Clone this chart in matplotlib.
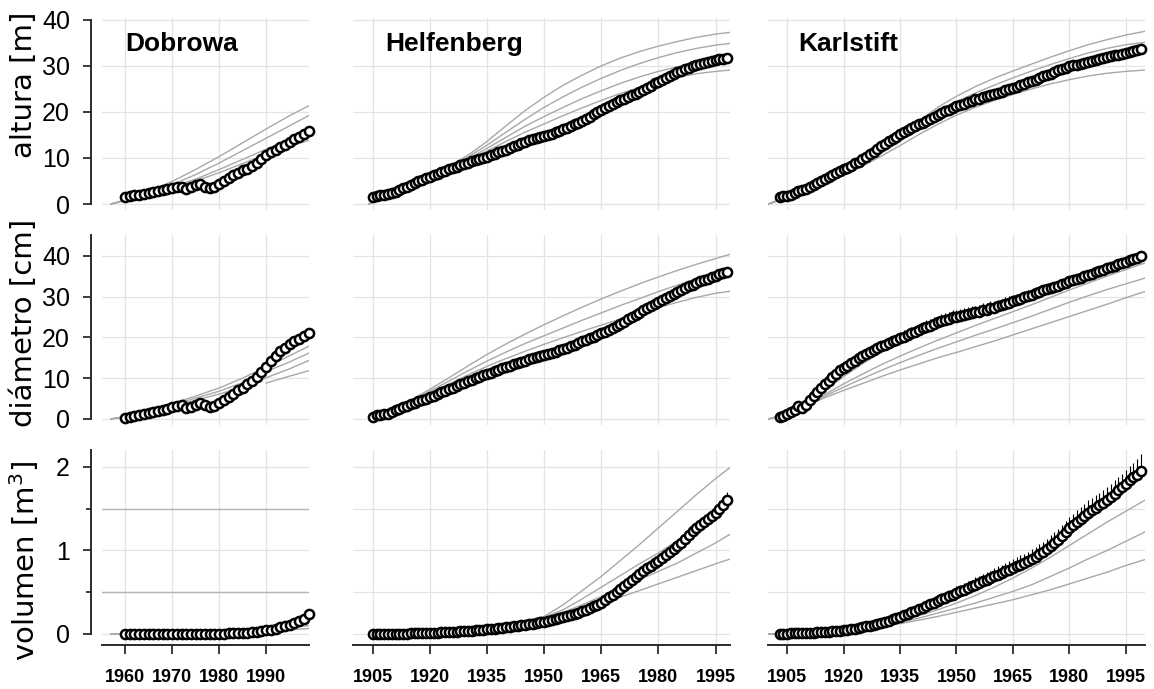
import numpy as np
import matplotlib
matplotlib.use("Agg")
from matplotlib import pyplot as plt
from matplotlib.font_manager import FontProperties

# ---------------- datos ----------------
# Dobrowa 1960-1999
dob_years = np.arange(1960, 2000)
dob_h = [1.6, 1.8, 1.9, 2.0, 2.2, 2.4, 2.6, 2.8, 3.0, 3.2,
         3.4, 3.7, 3.7, 3.2, 3.6, 4.1, 4.3, 3.7, 3.4, 3.7,
         4.4, 4.9, 5.6, 6.2, 6.7, 7.3, 7.7, 8.3, 9.0, 9.8,
         10.6, 11.2, 11.7, 12.3, 12.8, 13.4, 14.1, 14.6, 15.2, 15.9]
dob_d = [0.3, 0.5, 0.7, 0.9, 1.1, 1.4, 1.6, 1.9, 2.2, 2.5,
         2.9, 3.3, 3.5, 2.8, 3.0, 3.5, 4.0, 3.4, 2.9, 3.1,
         3.8, 4.6, 5.4, 6.2, 7.0, 7.7, 8.5, 9.3, 10.3, 11.5,
         12.8, 14.2, 15.5, 16.6, 17.5, 18.3, 19.0, 19.7, 20.4, 21.1]
dob_v = [0.000, 0.000, 0.000, 0.000, 0.000, 0.000, 0.000, 0.000, 0.000, 0.000,
         0.001, 0.001, 0.001, 0.001, 0.001, 0.002, 0.002, 0.002, 0.002, 0.003,
         0.004, 0.005, 0.007, 0.009, 0.011, 0.014, 0.017, 0.021, 0.026, 0.033,
         0.042, 0.052, 0.064, 0.078, 0.094, 0.111, 0.130, 0.152, 0.180, 0.235]

# Helfenberg 1905-1998
helf_years = np.arange(1905, 1999)
helf_h = [1.6, 1.8, 1.9, 2.0, 2.1, 2.3, 2.6, 3.0, 3.4, 3.8,
          4.2, 4.5, 4.9, 5.2, 5.6, 5.9, 6.2, 6.5, 6.9, 7.2,
          7.5, 7.8, 8.1, 8.4, 8.7, 9.0, 9.3, 9.6, 9.8, 10.1,
          10.3, 10.6, 10.9, 11.2, 11.5, 11.8, 12.1, 12.5, 12.8, 13.2,
          13.5, 13.8, 14.1, 14.4, 14.5, 14.7, 15.0, 15.3, 15.6, 15.9,
          16.2, 16.5, 16.9, 17.3, 17.6, 18.0, 18.5, 19.0, 19.5, 19.9,
          20.4, 20.8, 21.3, 21.7, 22.1, 22.5, 22.9, 23.3, 23.7, 24.0,
          24.4, 24.8, 25.3, 25.7, 26.2, 26.6, 27.0, 27.4, 27.8, 28.2,
          28.6, 28.9, 29.3, 29.6, 29.9, 30.2, 30.4, 30.6, 30.9, 31.1,
          31.3, 31.5, 31.6, 31.8]
helf_d = [0.6, 0.9, 1.0, 1.1, 1.3, 1.7, 2.1, 2.5, 2.9, 3.3,
          3.7, 4.0, 4.3, 4.7, 5.0, 5.3, 5.7, 6.1, 6.5, 6.9,
          7.3, 7.7, 8.1, 8.5, 8.9, 9.3, 9.6, 10.0, 10.3, 10.7,
          11.0, 11.3, 11.7, 12.0, 12.4, 12.7, 13.0, 13.4, 13.7, 14.0,
          14.3, 14.6, 14.9, 15.2, 15.4, 15.6, 15.9, 16.2, 16.5, 16.8,
          17.2, 17.5, 17.9, 18.2, 18.6, 19.0, 19.4, 19.8, 20.2, 20.6,
          21.0, 21.4, 21.9, 22.3, 22.8, 23.3, 23.8, 24.4, 24.9, 25.5,
          26.0, 26.6, 27.1, 27.6, 28.2, 28.7, 29.2, 29.7, 30.2, 30.7,
          31.2, 31.6, 32.1, 32.5, 32.9, 33.3, 33.7, 34.0, 34.4, 34.7,
          35.0, 35.4, 35.7, 36.0]
helf_v = [0.001, 0.001, 0.001, 0.002, 0.002, 0.002, 0.003, 0.003, 0.004, 0.005,
          0.006, 0.007, 0.008, 0.009, 0.010, 0.012, 0.014, 0.016, 0.018, 0.020,
          0.022, 0.024, 0.027, 0.030, 0.033, 0.036, 0.039, 0.043, 0.047, 0.051,
          0.055, 0.060, 0.065, 0.070, 0.075, 0.080, 0.086, 0.092, 0.098, 0.104,
          0.110, 0.117, 0.124, 0.131, 0.138, 0.145, 0.155, 0.165, 0.176, 0.188,
          0.200, 0.213, 0.227, 0.241, 0.255, 0.270, 0.290, 0.310, 0.330, 0.352,
          0.375, 0.405, 0.437, 0.470, 0.505, 0.540, 0.575, 0.610, 0.645, 0.680,
          0.715, 0.750, 0.785, 0.820, 0.850, 0.880, 0.915, 0.950, 0.985, 1.020,
          1.055, 1.095, 1.140, 1.190, 1.235, 1.270, 1.305, 1.340, 1.375, 1.410,
          1.450, 1.500, 1.550, 1.600]
helf_v_err_years = np.arange(1982, 1999)
helf_v_err = [0.02, 0.02, 0.03, 0.03, 0.04, 0.04, 0.05, 0.05, 0.06, 0.06,
              0.07, 0.07, 0.08, 0.08, 0.09, 0.09, 0.10]

# Karlstift 1903-1999
karl_years = np.arange(1903, 2000)
karl_h = [1.6, 1.7, 1.8, 2.0, 2.3, 2.9, 3.0, 3.3, 3.7, 4.1,
          4.5, 5.0, 5.5, 5.9, 6.3, 6.7, 7.1, 7.5, 7.9, 8.3,
          8.8, 9.2, 9.7, 10.3, 10.9, 11.4, 12.0, 12.5, 13.0, 13.6,
          14.1, 14.6, 15.2, 15.6, 16.0, 16.5, 16.9, 17.3, 17.7, 18.1,
          18.5, 18.9, 19.3, 19.7, 20.1, 20.5, 20.9, 21.2, 21.5, 21.8,
          22.1, 22.4, 22.7, 22.9, 23.2, 23.4, 23.7, 23.9, 24.2, 24.4,
          24.7, 25.0, 25.2, 25.5, 25.8, 26.1, 26.4, 26.7, 27.0, 27.4,
          27.7, 28.0, 28.3, 28.7, 29.0, 29.3, 29.6, 29.9, 30.1, 30.3,
          30.5, 30.7, 30.9, 31.1, 31.3, 31.5, 31.7, 31.9, 32.1, 32.3,
          32.4, 32.6, 32.8, 33.0, 33.2, 33.4, 33.6]
karl_d = [0.6, 0.8, 1.2, 1.7, 2.3, 3.2, 2.8, 3.5, 4.6, 5.6,
          6.6, 7.6, 8.5, 9.4, 10.3, 11.1, 11.9, 12.4, 13.1, 13.7,
          14.3, 14.9, 15.5, 16.0, 16.5, 17.0, 17.4, 17.8, 18.2, 18.6,
          19.0, 19.4, 19.8, 20.2, 20.6, 21.0, 21.4, 21.8, 22.2, 22.6,
          22.9, 23.3, 23.7, 24.0, 24.3, 24.6, 24.9, 25.1, 25.3, 25.5,
          25.7, 25.9, 26.1, 26.3, 26.6, 26.8, 27.1, 27.3, 27.6, 27.9,
          28.2, 28.5, 28.8, 29.1, 29.4, 29.8, 30.1, 30.4, 30.8, 31.2,
          31.5, 31.8, 32.1, 32.4, 32.7, 33.0, 33.3, 33.7, 34.0, 34.3,
          34.6, 35.0, 35.3, 35.6, 35.9, 36.2, 36.5, 36.9, 37.2, 37.5,
          37.9, 38.2, 38.5, 38.9, 39.2, 39.5, 39.9]
karl_d_err_years = np.arange(1915, 2000)
karl_d_err = [0.6, 0.7, 0.8, 0.9, 1.0, 1.0, 1.1, 1.1, 1.2, 1.2,
              1.2, 1.3, 1.3, 1.3, 1.3, 1.4, 1.4, 1.4, 1.4, 1.4,
              1.5, 1.5, 1.5, 1.5, 1.5, 1.5, 1.6, 1.6, 1.6, 1.6,
              1.6, 1.6, 1.6, 1.6, 1.7, 1.7, 1.7, 1.7, 1.7, 1.7,
              1.7, 1.7, 1.7, 1.7, 1.7, 1.7, 1.6, 1.6, 1.6, 1.6,
              1.6, 1.5, 1.5, 1.5, 1.5, 1.4, 1.4, 1.4, 1.3, 1.3,
              1.3, 1.2, 1.2, 1.2, 1.1, 1.1, 1.1, 1.0, 1.0, 1.0,
              0.9, 0.9, 0.9, 0.8, 0.8, 0.8, 0.7, 0.7, 0.7, 0.6,
              0.6, 0.6, 0.5, 0.5, 0.5]
karl_v = [0.003, 0.004, 0.005, 0.006, 0.007, 0.009, 0.010, 0.012, 0.014, 0.016,
          0.019, 0.022, 0.025, 0.028, 0.032, 0.036, 0.040, 0.045, 0.051, 0.057,
          0.064, 0.072, 0.080, 0.090, 0.100, 0.111, 0.123, 0.135, 0.148, 0.161,
          0.175, 0.190, 0.205, 0.222, 0.240, 0.258, 0.277, 0.296, 0.316, 0.336,
          0.356, 0.376, 0.396, 0.415, 0.435, 0.455, 0.472, 0.490, 0.510, 0.530,
          0.550, 0.570, 0.590, 0.610, 0.630, 0.650, 0.670, 0.690, 0.710, 0.730,
          0.750, 0.770, 0.790, 0.810, 0.830, 0.850, 0.872, 0.895, 0.925, 0.955,
          0.985, 1.015, 1.050, 1.090, 1.130, 1.175, 1.220, 1.265, 1.300, 1.340,
          1.380, 1.415, 1.450, 1.480, 1.510, 1.540, 1.570, 1.600, 1.640, 1.680,
          1.720, 1.760, 1.800, 1.840, 1.875, 1.910, 1.950]
karl_v_err_years = np.arange(1933, 2000)
karl_v_err = [0.02, 0.02, 0.03, 0.03, 0.03, 0.04, 0.04,
              0.05, 0.05, 0.05, 0.06, 0.06, 0.06, 0.07, 0.07, 0.07, 0.07,
              0.08, 0.08, 0.08, 0.08, 0.08, 0.09, 0.09, 0.09, 0.09, 0.09,
              0.10, 0.10, 0.10, 0.10, 0.10, 0.11, 0.11, 0.11, 0.11, 0.11,
              0.12, 0.12, 0.12, 0.12, 0.12, 0.13, 0.13, 0.13, 0.13, 0.13,
              0.14, 0.14, 0.14, 0.14, 0.14, 0.15, 0.15, 0.15, 0.15, 0.15,
              0.16, 0.16, 0.16, 0.16, 0.16, 0.17, 0.17, 0.17, 0.18, 0.20]

# curvas de los modelos (lineas grises)
dob_fit_years = [1957, 1960, 1965, 1970, 1975, 1980, 1985, 1990, 1995, 1999]
dob_h_fit = [[0, 0.9, 2.8, 4.9, 7.5, 10.3, 13.3, 16.3, 19.2, 21.3],
             [0, 0.8, 2.5, 4.2, 6.4, 8.9, 11.6, 14.3, 17.0, 19.2],
             [0, 0.8, 2.3, 3.7, 5.4, 7.5, 9.7, 11.9, 14.0, 15.5],
             [0, 0.7, 2.2, 3.4, 5.0, 6.8, 8.8, 10.8, 12.6, 13.8]]
dob_d_fit = [[0, 0.6, 2.0, 3.8, 5.6, 7.6, 10.0, 12.8, 15.5, 17.8],
             [0, 0.6, 1.9, 3.5, 5.1, 6.8, 8.9, 11.6, 14.0, 16.1],
             [0, 0.5, 1.8, 3.2, 4.6, 6.1, 7.8, 10.1, 12.3, 14.3]]
dob_d_fit_late_years = [1990, 1995, 1999]
dob_d_fit_late = [8.8, 10.5, 11.8]
dob_v_fit = [[0, 0.001, 0.002, 0.005, 0.010, 0.020, 0.030, 0.050, 0.075, 0.100],
             [0, 0.001, 0.002, 0.003, 0.006, 0.012, 0.020, 0.035, 0.050, 0.065]]
dob_v_ref = [0.5, 1.5]

helf_fit_years = [1904, 1910, 1915, 1920, 1925, 1930, 1935, 1940, 1945, 1950,
                  1955, 1960, 1965, 1970, 1975, 1980, 1985, 1990, 1995, 1999]
helf_h_fit = [[0, 2.4, 4.3, 6.4, 8.3, 10.6, 13.6, 17.0, 20.3, 23.2, 25.8, 28.0, 30.0, 31.7, 33.1, 34.3, 35.3, 36.2, 36.9, 37.3],
              [0, 2.4, 4.3, 6.3, 8.1, 10.2, 12.8, 15.6, 18.4, 21.0, 23.3, 25.4, 27.3, 29.0, 30.5, 31.8, 32.9, 33.8, 34.5, 34.9],
              [0, 2.4, 4.3, 6.2, 7.9, 9.8, 12.1, 14.5, 16.9, 19.0, 21.0, 22.9, 24.6, 26.2, 27.6, 28.8, 29.8, 30.6, 31.2, 31.5],
              [0, 2.4, 4.2, 6.1, 7.8, 9.5, 11.5, 13.6, 15.6, 17.4, 19.2, 20.9, 22.5, 24.0, 25.3, 26.5, 27.5, 28.3, 28.8, 29.1]]
helf_d_fit = [[0, 2.2, 4.6, 7.3, 10.1, 13.0, 15.8, 18.4, 20.8, 23.1, 25.3, 27.4, 29.4, 31.3, 33.1, 34.8, 36.4, 37.9, 39.3, 40.4],
              [0, 2.1, 4.4, 6.8, 9.3, 11.8, 14.2, 16.4, 18.5, 20.4, 22.3, 24.2, 26.0, 27.8, 29.5, 31.2, 32.8, 34.4, 35.9, 36.9],
              [0, 2.0, 4.2, 6.4, 8.6, 10.8, 12.9, 14.8, 16.6, 18.3, 19.9, 21.5, 23.0, 24.5, 25.9, 27.3, 28.6, 29.8, 30.8, 31.3]]
helf_v_fit = [[0, 0.003, 0.008, 0.016, 0.03, 0.05, 0.08, 0.12, 0.16, 0.21, 0.35, 0.52, 0.69, 0.88, 1.07, 1.27, 1.47, 1.67, 1.86, 2.0],
              [0, 0.003, 0.008, 0.016, 0.03, 0.05, 0.078, 0.11, 0.15, 0.2, 0.29, 0.42, 0.56, 0.7, 0.84, 0.97, 1.12, 1.28, 1.45, 1.58],
              [0, 0.003, 0.008, 0.016, 0.03, 0.05, 0.075, 0.105, 0.14, 0.19, 0.26, 0.35, 0.45, 0.55, 0.65, 0.75, 0.85, 0.97, 1.09, 1.2],
              [0, 0.003, 0.008, 0.016, 0.03, 0.048, 0.072, 0.1, 0.135, 0.18, 0.24, 0.31, 0.37, 0.44, 0.52, 0.6, 0.68, 0.76, 0.84, 0.9]]

karl_fit_years = [1900, 1905, 1910, 1915, 1920, 1925, 1930, 1935, 1940, 1945, 1950,
                  1955, 1960, 1965, 1970, 1975, 1980, 1985, 1990, 1995, 2000]
karl_h_fit = [[0, 1.5, 3.1, 4.9, 6.9, 9.2, 11.8, 14.9, 18.0, 21.0, 23.4, 25.5, 27.3, 28.9, 30.4, 31.9, 33.3, 34.6, 35.7, 36.7, 37.5],
              [0, 1.5, 3.0, 4.7, 6.6, 8.9, 11.4, 14.2, 17.2, 19.9, 22.2, 24.1, 25.8, 27.4, 28.9, 30.3, 31.6, 32.8, 33.8, 34.6, 35.1],
              [0, 1.5, 3.0, 4.6, 6.4, 8.6, 11.0, 13.6, 16.3, 18.8, 21.0, 22.9, 24.6, 26.1, 27.5, 28.8, 30.0, 31.1, 32.0, 32.7, 33.2],
              [0, 1.4, 2.9, 4.5, 6.2, 8.2, 10.4, 12.7, 15.1, 17.3, 19.3, 21.0, 22.5, 23.8, 25.0, 26.1, 27.0, 27.8, 28.4, 28.8, 29.1]]
karl_d_fit = [[0, 1.2, 3.6, 7.0, 10.4, 13.5, 16.3, 18.8, 21.0, 22.9, 24.6, 26.2, 27.8, 29.5, 31.3, 33.0, 34.7, 36.2, 37.6, 38.8, 39.8],
              [0, 1.2, 3.5, 6.0, 8.6, 11.0, 13.3, 15.4, 17.4, 19.3, 21.1, 22.9, 24.6, 26.3, 28.0, 29.8, 31.6, 33.3, 35.0, 36.6, 38.2],
              [0, 1.2, 3.4, 5.6, 7.8, 9.9, 11.9, 13.8, 15.6, 17.3, 18.9, 20.5, 22.0, 23.6, 25.2, 26.9, 28.6, 30.2, 31.7, 33.1, 34.5],
              [0, 1.2, 3.3, 5.2, 7.0, 8.7, 10.4, 12.0, 13.5, 15.0, 16.3, 17.7, 19.1, 20.6, 22.1, 23.6, 25.1, 26.6, 28.1, 29.7, 31.2]]
karl_v_fit = [[0, 0.005, 0.012, 0.025, 0.045, 0.075, 0.12, 0.18, 0.25, 0.33, 0.42, 0.52, 0.62, 0.73, 0.86, 1.01, 1.18, 1.36, 1.55, 1.73, 1.9],
              [0, 0.005, 0.012, 0.025, 0.044, 0.07, 0.11, 0.16, 0.22, 0.29, 0.37, 0.46, 0.56, 0.67, 0.79, 0.92, 1.06, 1.2, 1.34, 1.47, 1.6],
              [0, 0.005, 0.012, 0.024, 0.042, 0.066, 0.1, 0.14, 0.19, 0.25, 0.31, 0.37, 0.44, 0.51, 0.59, 0.69, 0.79, 0.9, 1.0, 1.11, 1.22],
              [0, 0.005, 0.012, 0.023, 0.04, 0.06, 0.09, 0.125, 0.165, 0.21, 0.26, 0.31, 0.36, 0.41, 0.47, 0.53, 0.6, 0.67, 0.74, 0.82, 0.89]]

sites = ["Dobrowa", "Helfenberg", "Karlstift"]
ylabels = ["altura [m]", "diámetro [cm]", "volumen [m$^3$]"]
dob_xticks = [1960, 1970, 1980, 1990]
long_xticks = [1905, 1920, 1935, 1950, 1965, 1980, 1995]

# ---------------- figura ----------------
W, H = 1154, 689
fig = plt.figure(figsize=(W / 100, H / 100), dpi=100)

cols = [(102, 309), (353, 730), (768, 1145)]
rows = [(18, 210), (235.3, 425.1), (450.3, 645)]
xlims = [(1955.1, 1999.1), (1899.8, 1998.8), (1899.9, 2000.1)]
ylims = [(-1.3, 40.4), (-1.5, 45), (-0.132, 2.2)]
yticks = [[0, 10, 20, 30, 40], [0, 10, 20, 30, 40], [0, 1, 2]]

GRID = "#e3e3e3"
FIT = "#a8a8a8"
SPINE = "#2b2b2b"
tick_bold = FontProperties(family=["Liberation Sans", "DejaVu Sans"],
                           weight="bold", size=13)

years_all = [dob_years, helf_years, karl_years]
values = [[dob_h, helf_h, karl_h], [dob_d, helf_d, karl_d], [dob_v, helf_v, karl_v]]
fits = [[dob_h_fit, helf_h_fit, karl_h_fit],
        [dob_d_fit, helf_d_fit, karl_d_fit],
        [dob_v_fit, helf_v_fit, karl_v_fit]]
fit_years = [dob_fit_years, helf_fit_years, karl_fit_years]


def add_px_axes(x0, x1, y0, y1):
    return fig.add_axes([x0 / W, 1 - y1 / H, (x1 - x0) / W, (y1 - y0) / H])


for r in range(3):
    for c in range(3):
        ax = add_px_axes(cols[c][0], cols[c][1], rows[r][0], rows[r][1])
        ax.set_xlim(*xlims[c])
        ax.set_ylim(*ylims[r])
        for s in ax.spines.values():
            s.set_visible(False)

        xt = dob_xticks if c == 0 else long_xticks
        ax.set_xticks(xt)
        ax.set_yticks(yticks[r])
        if r == 2:
            ax.set_yticks([0.5, 1.5], minor=True)
        ax.grid(True, which="both", color=GRID, lw=0.9, zorder=0)
        ax.set_axisbelow(True)

        # lineas grises de los modelos
        for fv in fits[r][c]:
            ax.plot(fit_years[c], fv, color=FIT, lw=1.0, zorder=2)
        if r == 1 and c == 0:
            ax.plot(dob_d_fit_late_years, dob_d_fit_late, color=FIT, lw=1.0, zorder=2)
        if r == 2 and c == 0:
            for yv in dob_v_ref:
                ax.axhline(yv, color="#b5b5b5", lw=1.0, zorder=1)

        # barras de error (solo hacia arriba)
        if r == 1 and c == 2:
            base = np.array(karl_d)[np.isin(karl_years, karl_d_err_years)]
            ax.vlines(karl_d_err_years, base, base + np.array(karl_d_err),
                      color="black", lw=0.8, zorder=2.5)
        if r == 2 and c == 2:
            base = np.array(karl_v)[np.isin(karl_years, karl_v_err_years)]
            ax.vlines(karl_v_err_years, base, base + np.array(karl_v_err),
                      color="black", lw=0.8, zorder=2.5)
        if r == 2 and c == 1:
            base = np.array(helf_v)[np.isin(helf_years, helf_v_err_years)]
            ax.vlines(helf_v_err_years, base, base + np.array(helf_v_err),
                      color="black", lw=0.8, zorder=2.5)

        ax.plot(years_all[c], values[r][c], ls="none", marker="o", ms=6.6,
                mfc="white", mec="black", mew=1.8, zorder=3, clip_on=False)

        # ejes
        if c == 0:
            ax.spines["left"].set_visible(True)
            ax.spines["left"].set_position(("outward", 8))
            ax.spines["left"].set_bounds(0, yticks[r][-1] if r == 0 else ylims[r][1])
            ax.spines["left"].set_color(SPINE)
            ax.spines["left"].set_linewidth(1.4)
            ax.tick_params(axis="y", which="major", length=6, width=1.3, color=SPINE,
                           pad=9, labelsize=18, labelcolor="black")
            ax.tick_params(axis="y", which="minor", length=3.5, width=1.3, color=SPINE)
            for lab in ax.get_yticklabels():
                lab.set_family(["Liberation Sans", "DejaVu Sans"])
        else:
            ax.tick_params(axis="y", which="both", length=0, labelleft=False)

        if r == 2:
            ax.spines["bottom"].set_visible(True)
            ax.spines["bottom"].set_color(SPINE)
            ax.spines["bottom"].set_linewidth(1.4)
            ax.tick_params(axis="x", length=6.5, width=1.3, color=SPINE, pad=11)
            ax.set_xticklabels([str(t) for t in xt])
            for lab in ax.get_xticklabels():
                lab.set_fontproperties(tick_bold)
        else:
            ax.tick_params(axis="x", length=0, labelbottom=False)

# titulos de los sitios
title_x = [125, 385, 798]
for name, tx in zip(sites, title_x):
    fig.text(tx / W, 1 - 44 / H, name, ha="left", va="center", fontsize=19,
             fontweight="bold", family=["Liberation Sans", "DejaVu Sans"])

# etiquetas del eje y
label_y = [85, 323, 561]
for lab, ly in zip(ylabels, label_y):
    fig.text(24 / W, 1 - ly / H, lab, rotation=90, ha="center", va="center",
             fontsize=21, family="DejaVu Sans")

fig.savefig("out.png", dpi=100)
